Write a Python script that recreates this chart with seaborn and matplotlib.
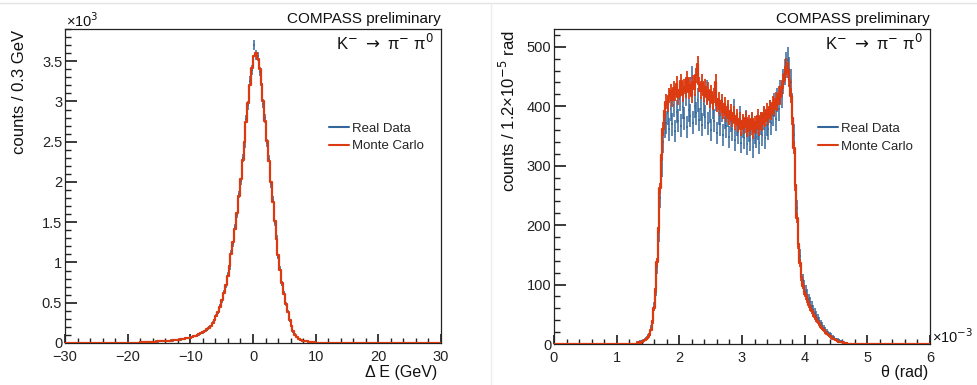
import numpy as np
import pandas as pd
import seaborn as sns
import matplotlib.pyplot as plt
from matplotlib.ticker import MultipleLocator, FuncFormatter
from matplotlib.lines import Line2D

# ---------------- data ----------------
# Delta E histogram: 0.3 GeV bins, first listed bin starts at -18 GeV
de_first_edge = -18.0
de_bin_width = 0.3
de_mc = [11, 12, 12, 13, 14, 15, 16, 17, 18, 19,
         20, 22, 23, 25, 26, 28, 30, 33, 35, 38,
         41, 44, 48, 52, 57, 62, 67, 74, 81, 89,
         98, 108, 120, 134, 150, 168, 190, 215, 245, 285,
         330, 385, 450, 530, 620, 720, 830, 960, 1100, 1250,
         1420, 1610, 1820, 2040, 2270, 2500, 2740, 2980, 3210, 3420,
         3560, 3600, 3530, 3400, 3220, 3000, 2760, 2510, 2260, 2000,
         1750, 1510, 1290, 1090, 910, 750, 610, 490, 380, 285,
         205, 145, 102, 72, 52, 39, 30, 24, 19, 15,
         12, 10, 8, 6, 5, 4, 3, 2, 2, 1]
de_data = [12, 10, 14, 11, 15, 13, 18, 15, 20, 17,
           22, 20, 25, 23, 28, 26, 32, 30, 37, 36,
           43, 41, 50, 49, 59, 60, 70, 71, 84, 86,
           101, 104, 124, 130, 155, 163, 196, 210, 252, 278,
           338, 376, 461, 518, 634, 706, 847, 940, 1122, 1228,
           1445, 1590, 1850, 2010, 2300, 2470, 2780, 2950, 3260, 3390,
           3700, 3580, 3560, 3370, 3250, 2970, 2790, 2480, 2290, 1970,
           1780, 1490, 1310, 1070, 925, 738, 622, 482, 388, 279,
           211, 141, 106, 70, 54, 38, 31, 23, 20, 14,
           13, 9, 8, 6, 5, 4, 3, 3, 2, 1]

# theta histogram (x in units of 1e-3 rad), counts per 1.2e-5 rad,
# listed in 2.4e-5 rad steps starting at 1.32e-3 rad
th_first_edge = 1.32
th_bin_width = 0.024
th_mc = [2, 3, 2, 4, 5, 6, 8, 11, 16, 24,
         38, 60, 92, 138, 196, 262, 318, 362, 392, 408,
         402, 418, 425, 411, 430, 421, 438, 415, 428, 442,
         419, 433, 426, 447, 424, 436, 418, 440, 429, 452,
         471, 437, 425, 441, 419, 433, 415, 428, 410, 424,
         406, 418, 441, 402, 412, 396, 409, 391, 403, 385,
         398, 380, 392, 377, 389, 371, 384, 368, 379, 362,
         376, 365, 381, 359, 373, 362, 378, 356, 372, 364,
         383, 361, 379, 370, 388, 376, 393, 381, 398, 388,
         405, 396, 412, 404, 421, 415, 432, 441, 455, 468,
         461, 445, 418, 380, 330, 268, 212, 168, 136, 112,
         98, 88, 80, 74, 66, 60, 55, 50, 45, 41,
         37, 33, 29, 26, 23, 20, 17, 15, 13, 11,
         9, 8, 6, 5, 4, 3, 3, 2, 1, 1]
th_data = [3, 2, 4, 5, 4, 7, 9, 13, 18, 27,
           41, 63, 90, 130, 185, 245, 298, 340, 365, 372,
           388, 361, 395, 370, 402, 358, 391, 376, 412, 367,
           399, 380, 421, 365, 393, 384, 447, 372, 401, 388,
           410, 377, 395, 369, 403, 382, 424, 371, 392, 360,
           398, 376, 412, 355, 389, 370, 393, 352, 381, 366,
           385, 348, 376, 361, 392, 343, 370, 356, 381, 339,
           365, 347, 374, 336, 359, 344, 371, 331, 356, 349,
           362, 338, 371, 352, 380, 347, 369, 362, 391, 371,
           386, 402, 378, 410, 395, 424, 418, 442, 458, 470,
           478, 462, 441, 402, 352, 281, 228, 182, 148, 124,
           108, 97, 89, 83, 76, 70, 64, 58, 53, 48,
           44, 39, 35, 31, 27, 24, 21, 18, 16, 14,
           12, 10, 8, 7, 6, 5, 4, 3, 2, 2]

BLUE = '#33679c'
RED = '#dc3a10'

sns.set_theme(style='ticks')
plt.rcParams['font.family'] = ['Liberation Sans', 'DejaVu Sans']
plt.rcParams['axes.linewidth'] = 0.9
plt.rcParams['axes.edgecolor'] = '#222222'


def draw_hist(ax, first_edge, width, mc, data, xlim, red_err=False):
    mc = np.asarray(mc, float)
    data = np.asarray(data, float)
    centers = first_edge + width * (np.arange(len(mc)) + 0.5)
    nb = int(round((xlim[1] - xlim[0]) / width))
    edges = [float(xlim[0] + width * i) for i in range(nb + 1)]
    ax.errorbar(centers, data, xerr=width / 2, yerr=np.sqrt(data), fmt='none',
                ecolor=BLUE, elinewidth=1.1, zorder=2)
    df = pd.DataFrame({'x': centers, 'w': mc})
    sns.histplot(data=df, x='x', weights='w', bins=edges, element='step', fill=False,
                 color=RED, linewidth=1.6, ax=ax, zorder=3)
    if red_err:
        ax.errorbar(centers, mc, yerr=0.6 * np.sqrt(mc), fmt='none',
                    ecolor=RED, elinewidth=1.3, zorder=3)
    ax.set_xlim(*xlim)
    ax.set_xlabel('')
    ax.set_ylabel('')


def style_axes(ax):
    ax.tick_params(which='both', direction='in', top=False, right=False,
                   labelsize=10.5, colors='#222222')
    ax.tick_params(axis='y', which='major', length=8.5, pad=2)
    ax.tick_params(axis='y', which='minor', length=4.3)
    ax.tick_params(axis='x', which='major', length=6.5, pad=5)
    ax.tick_params(axis='x', which='minor', length=3.3)
    for s in ax.spines.values():
        s.set_visible(True)


def add_legend(ax):
    handles = [Line2D([0], [0], color=BLUE, lw=1.5),
               Line2D([0], [0], color=RED, lw=1.5)]
    ax.legend(handles, ['Real Data', 'Monte Carlo'], loc='center left',
              bbox_to_anchor=(0.703, 0.655), frameon=False, fontsize=9.5,
              handlelength=1.5, handletextpad=0.2, labelspacing=0.42,
              borderpad=0, borderaxespad=0)


fig = plt.figure(figsize=(9.77, 3.85), dpi=100)

# ---- left panel ----
ax1 = fig.add_axes([65 / 977, 42 / 385, 376 / 977, 314 / 385])
draw_hist(ax1, de_first_edge, de_bin_width, de_mc, de_data, (-30, 30))
ax1.set_ylim(0, 3900)
ax1.xaxis.set_major_locator(MultipleLocator(10))
ax1.xaxis.set_minor_locator(MultipleLocator(2))
ax1.yaxis.set_major_locator(MultipleLocator(500))
ax1.yaxis.set_minor_locator(MultipleLocator(100))
ax1.yaxis.set_major_formatter(FuncFormatter(lambda v, p: f'{v / 1000:g}'))
ax1.xaxis.set_major_formatter(FuncFormatter(lambda v, p: f'{v:g}'.replace('-', '\u2212')))
style_axes(ax1)
add_legend(ax1)

# ---- right panel ----
ax2 = fig.add_axes([554 / 977, 41 / 385, 376 / 977, 315 / 385])
draw_hist(ax2, th_first_edge, th_bin_width, th_mc, th_data, (0, 6), red_err=True)
ax2.set_ylim(0, 530)
ax2.xaxis.set_major_locator(MultipleLocator(1))
ax2.xaxis.set_minor_locator(MultipleLocator(0.2))
ax2.yaxis.set_major_locator(MultipleLocator(100))
ax2.yaxis.set_minor_locator(MultipleLocator(20))
ax2.xaxis.set_major_formatter(FuncFormatter(lambda v, p: f'{v:g}'))
style_axes(ax2)
add_legend(ax2)

# ---- texts ----
tc = '#111111'
fig.text(66 / 977, 1 - 27 / 385, '×10$^{3}$', fontsize=10.5, color=tc, va='baseline')
fig.text(932 / 977, 1 - 343 / 385, '×10$^{-3}$', fontsize=10.5, color=tc, va='baseline')
for x0 in (441, 930):
    fig.text(x0 / 977, 1 - 19 / 385, 'COMPASS preliminary', fontsize=11,
             color=tc, ha='right', va='center')
    fig.text((x0 - 7) / 977, 1 - 43 / 385, r'K$^{-}$ $\rightarrow$ π$^{-}$ π$^{0}$',
             fontsize=12, color=tc, ha='right', va='center')
fig.text(437 / 977, 1 - 372 / 385, 'Δ E (GeV)', fontsize=11.5, color=tc,
         ha='right', va='center')
fig.text(928 / 977, 1 - 372 / 385, 'θ (rad)', fontsize=11.5, color=tc,
         ha='right', va='center')
fig.text(20 / 977, 1 - 30 / 385, 'counts / 0.3 GeV', fontsize=12, color=tc,
         rotation=90, ha='center', va='top')
fig.text(508 / 977, 1 - 30 / 385, 'counts / 1.2×10$^{-5}$ rad', fontsize=12,
         color=tc, rotation=90, ha='center', va='top')

# screenshot frame lines
fig.add_artist(Line2D([0, 1], [1 - 3 / 385, 1 - 3 / 385], color='#e4e4e4', lw=1))
fig.add_artist(Line2D([491 / 977, 491 / 977], [0, 1 - 3 / 385], color='#ececec', lw=1))

fig.savefig('out.png', dpi=100)
